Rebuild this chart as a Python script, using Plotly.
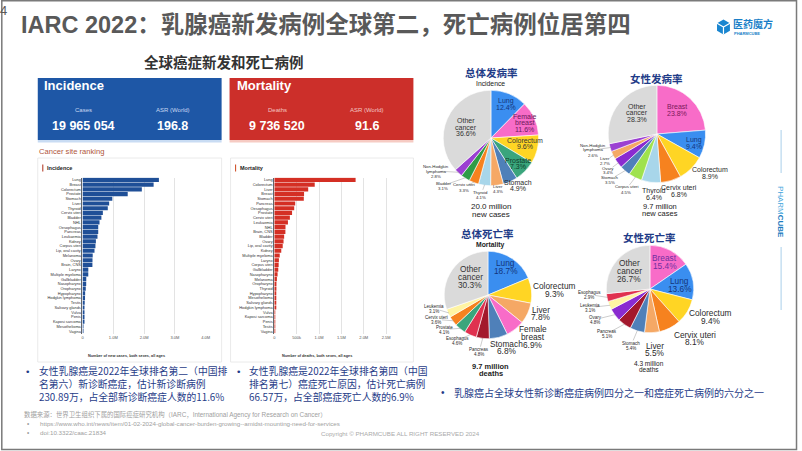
import math
import plotly.graph_objects as go

W, H = 802, 451
def px(x): return x / W
def py(y): return 1 - y / H

# ---------------- DATA ----------------
inc_sites = ["Lung", "Breast", "Colorectum", "Prostate", "Stomach", "Liver", "Thyroid",
             "Cervix uteri", "Bladder", "NHL", "Oesophagus", "Pancreas", "Leukaemia",
             "Kidney", "Corpus uteri", "Lip, oral cavity", "Melanoma", "Ovary", "Brain, CNS",
             "Larynx", "Multiple myeloma", "Gallbladder", "Nasopharynx", "Oropharynx",
             "Hypopharynx", "Hodgkin lymphoma", "Testis", "Salivary glands", "Vulva",
             "Penis", "Kaposi sarcoma", "Mesothelioma", "Vagina"]
inc_cases = [2480675, 2308897, 1926118, 1467854, 968350, 865269, 821214,
             661021, 613791, 553010, 511054, 510992, 486777,
             434840, 420368, 389846, 331722, 324603, 321731,
             188960, 187952, 122491, 120434, 106316,
             86257, 82409, 72031, 55083, 47336,
             37699, 35360, 30618, 18819]

mort_sites = ["Lung", "Colorectum", "Liver", "Breast", "Stomach", "Pancreas", "Oesophagus",
              "Prostate", "Cervix uteri", "Leukaemia", "NHL", "Brain, CNS", "Bladder",
              "Ovary", "Lip, oral cavity", "Kidney", "Multiple myeloma", "Larynx",
              "Corpus uteri", "Gallbladder", "Nasopharynx", "Melanoma", "Oropharynx",
              "Thyroid", "Hypopharynx", "Mesothelioma", "Salivary glands",
              "Hodgkin lymphoma", "Vulva", "Kaposi sarcoma", "Penis", "Testis", "Vagina"]
mort_deaths = [1817469, 903859, 757948, 665684, 659853, 467409, 445129,
               397430, 348189, 305033, 250475, 248305, 220349,
               206956, 188438, 155953, 121388, 103359,
               97723, 89055, 73482, 58667, 48191,
               47507, 43254, 25416, 23007,
               22733, 18579, 16004, 13709, 9056, 8255]

inc_ticks = [0, 1e6, 2e6, 3e6, 4e6]
inc_ticktext = ["0", "1.0M", "2.0M", "3.0M", "4.0M"]
mort_ticks = [0, 5e5, 1e6, 1.5e6, 2e6, 2.5e6]
mort_ticktext = ["0", "500k", "1.0M", "1.5M", "2.0M", "2.5M"]

# Pie 1: overall incidence
p1_names = ["Lung", "Female breast", "Colorectum", "Prostate", "Stomach", "Liver",
            "Thyroid", "Cervix uteri", "Bladder", "Non-Hodgkin lymphoma", "Other cancer"]
p1_vals = [12.4, 11.6, 9.6, 7.3, 4.9, 4.3, 4.1, 3.3, 3.1, 2.8, 36.6]
# Pie 2: female incidence
p2_names = ["Breast", "Lung", "Colorectum", "Cervix uteri", "Thyroid", "Corpus uteri",
            "Stomach", "Ovary", "Liver", "Non-Hodgkin lymphoma", "Other cancer"]
p2_vals = [23.8, 9.4, 8.9, 6.8, 6.4, 4.5, 3.5, 3.4, 2.7, 2.6, 28.3]
# Pie 3: overall mortality
p3_names = ["Lung", "Colorectum", "Liver", "Female breast", "Stomach", "Pancreas",
            "Esophagus", "Prostate", "Cervix uteri", "Leukemia", "Other cancer"]
p3_vals = [18.7, 9.3, 7.8, 6.9, 6.8, 4.8, 4.6, 4.1, 3.6, 3.1, 30.3]
# Pie 4: female mortality
p4_names = ["Breast", "Lung", "Colorectum", "Cervix uteri", "Liver", "Stomach",
            "Pancreas", "Ovary", "Leukemia", "Esophagus", "Other cancer"]
p4_vals = [15.4, 13.6, 9.4, 8.1, 5.5, 5.4, 5.1, 4.8, 3.1, 2.9, 26.7]

# ---------------- STYLE ----------------
SITE_COLORS = {
    "Lung": "#3a8ef0", "Female breast": "#f86cc8", "Breast": "#f86cc8",
    "Colorectum": "#ffd524", "Prostate": "#3aa57c", "Stomach": "#4f80b9",
    "Liver": "#f5a865", "Thyroid": "#a8d6ea", "Cervix uteri": "#f6821f",
    "Bladder": "#2e9c46", "Non-Hodgkin lymphoma": "#9b40d2", "Other cancer": "#dadada",
    "Corpus uteri": "#9fe24e", "Ovary": "#8a2bd0", "Pancreas": "#a3182c",
    "Esophagus": "#e0314f", "Leukemia": "#fff4a3",
}
WRAP = {"Other cancer": ["Other", "cancer"], "Female breast": ["Female", "breast"],
        "Non-Hodgkin lymphoma": ["Non-Hodgkin", "lymphoma"]}

FONT = "Liberation Sans, Noto Sans CJK SC, sans-serif"
CJK = "Noto Sans CJK SC, sans-serif"
DARKBLUE = "#1f3c88"

fig = go.Figure()

# Bar charts
fig.add_trace(go.Bar(x=inc_cases, y=inc_sites, orientation="h", xaxis="x", yaxis="y",
                     marker=dict(color="#1f4f97", line=dict(width=0)), showlegend=False))
fig.add_trace(go.Bar(x=mort_deaths, y=mort_sites, orientation="h", xaxis="x2", yaxis="y2",
                     marker=dict(color="#d42f24", line=dict(width=0)), showlegend=False))

# Pies: (names, values, center px, radius px)
pies = [
    (p1_names, p1_vals, (493, 138), 48),
    (p2_names, p2_vals, (660, 134), 49),
    (p3_names, p3_vals, (490, 295), 44),
    (p4_names, p4_vals, (653, 289), 44),
]
for names, vals, (cx, cy), r in pies:
    fig.add_trace(go.Pie(
        labels=names, values=vals, sort=False, direction="clockwise", rotation=0,
        marker=dict(colors=[SITE_COLORS[n] for n in names], line=dict(color="white", width=0.6)),
        textinfo="none", hoverinfo="label+percent", showlegend=False,
        domain=dict(x=[px(cx - r), px(cx + r)], y=[py(cy + r), py(cy - r)]),
    ))

ax_common = dict(showgrid=True, gridcolor="#e3e3e3", gridwidth=0.6, zeroline=False,
                 tickfont=dict(size=4, color="#555"), ticks="", fixedrange=True)
ycommon = dict(type="category", autorange="reversed", showline=True, linecolor="#666",
               linewidth=0.8, showgrid=False, tickfont=dict(size=3.9, color="#333"),
               ticks="", tickmode="array")
fig.update_layout(
    width=W, height=H, margin=dict(l=0, r=0, t=0, b=0),
    paper_bgcolor="white", plot_bgcolor="rgba(0,0,0,0)",
    font=dict(family=FONT), bargap=0.12,
    xaxis=dict(domain=[px(82), px(206)], range=[0, 4e6], anchor="y",
               tickvals=inc_ticks, ticktext=inc_ticktext, **ax_common),
    yaxis=dict(domain=[py(333.5), py(177.5)], anchor="x", categoryorder="array",
               categoryarray=inc_sites, tickvals=inc_sites, **ycommon),
    xaxis2=dict(domain=[px(275), px(397)], range=[0, 2.71e6], anchor="y2",
                tickvals=mort_ticks, ticktext=mort_ticktext, **ax_common),
    yaxis2=dict(domain=[py(333.5), py(177.5)], anchor="x2", categoryorder="array",
                categoryarray=mort_sites, tickvals=mort_sites, **ycommon),
)

shapes = []
def rect(x0, y0, x1, y1, fill, line=None, lw=0, layer="below"):
    shapes.append(dict(type="rect", xref="paper", yref="paper",
                       x0=px(x0), x1=px(x1), y0=py(y1), y1=py(y0),
                       fillcolor=fill, line=dict(color=line or fill, width=lw), layer=layer))
def line(x0, y0, x1, y1, color, w=1, layer="above"):
    shapes.append(dict(type="line", xref="paper", yref="paper",
                       x0=px(x0), x1=px(x1), y0=py(y0), y1=py(y1),
                       line=dict(color=color, width=w), layer=layer))

# slide border
rect(0.8, 0.8, 800.5, 449.5, "rgba(0,0,0,0)", "#7a7a7a", 1.5, layer="above")
# stat boxes
rect(37, 78, 222, 140, "#1e57a6")
rect(230, 78, 415, 140, "#cc2f2a")
rect(37, 140, 222, 142.5, "#c9dcf3")
rect(230, 140, 415, 142.5, "#f6cbc3")
# cards
rect(37, 158, 222, 362, "white", "#e4e4e4", 0.8)
rect(231, 158, 415, 362, "white", "#e4e4e4", 0.8)
rect(41.5, 164.5, 42.6, 171.5, "#b5402c")
rect(235.5, 164.5, 236.6, 171.5, "#d0532c")
# right vertical brand lines
line(785, 130, 785, 173, "#a9cfea", 1)
line(785, 247, 785, 310, "#a9cfea", 1)
# logo hexagon
cxl, cyl, rl = 727, 27, 7.5
pts = [(cxl + rl * math.cos(math.radians(a)), cyl + rl * math.sin(math.radians(a)))
       for a in range(-90, 270, 60)]
path = "M " + " L ".join(f"{px(x)},{py(y)}" for x, y in pts) + " Z"
shapes.append(dict(type="path", xref="paper", yref="paper", path=path,
                   fillcolor="#1a86d0", line=dict(width=0), layer="above"))
ypath = (f"M {px(cxl)},{py(cyl)} L {px(cxl)},{py(cyl + rl)} "
         f"M {px(cxl)},{py(cyl)} L {px(cxl - rl * 0.866)},{py(cyl - rl * 0.5)} "
         f"M {px(cxl)},{py(cyl)} L {px(cxl + rl * 0.866)},{py(cyl - rl * 0.5)}")
shapes.append(dict(type="path", xref="paper", yref="paper", path=ypath,
                   line=dict(color="white", width=1.2), layer="above"))

anns = []
def ann(x, y, text, size, color="#333", xanchor="center", family=FONT, bold=False,
        textangle=0, align="center"):
    anns.append(dict(x=px(x), y=py(y), xref="paper", yref="paper",
                     text=f"<b>{text}</b>" if bold else text,
                     showarrow=False, xanchor=xanchor, yanchor="middle", align=align,
                     borderpad=0, font=dict(size=size, color=color, family=family),
                     textangle=textangle))

def ann_lines(x, y, lines, size, color="#333", spacing=None, bold=False):
    sp = spacing if spacing else max(size * 0.95, 5.0)
    n = len(lines)
    for i, t in enumerate(lines):
        ann(x, y + (i - (n - 1) / 2) * sp, t, size, color, bold=bold)

# page number, title, logo
ann(-2, 10, "4", 13, "#595959", xanchor="left")
ann(19, 25, "IARC 2022：乳腺癌新发病例全球第二，死亡病例位居第四", 23.5, "#595959",
    xanchor="left", family="Liberation Sans, Noto Sans CJK SC", bold=True)
ann(736, 23.5, "医药魔方", 10, "#1a7fc8", xanchor="left", family=CJK, bold=True)
ann(736.5, 33.5, "PHARMCUBE", 4, "#1a7fc8", xanchor="left", bold=True)

# subtitle and stat boxes
ann(224, 62, "全球癌症新发和死亡病例", 14.5, "#333", family=CJK, bold=True)
ann(42, 85, "Incidence", 13, "white", xanchor="left", bold=True)
ann(83, 110, "Cases", 6, "#c9d8f2")
ann(83, 125.5, "19 965 054", 12.5, "white", bold=True)
ann(173, 110, "ASR (World)", 6, "#c9d8f2")
ann(173, 125.5, "196.8", 12.5, "white", bold=True)
ann(236, 85, "Mortality", 13, "white", xanchor="left", bold=True)
ann(278, 110, "Deaths", 6, "#f4c7c3")
ann(278, 125.5, "9 736 520", 12.5, "white", bold=True)
ann(368, 110, "ASR (World)", 6, "#f4c7c3")
ann(368, 125.5, "91.6", 12.5, "white", bold=True)
ann(37, 151.5, "Cancer site ranking", 7.6, "#b0553a", xanchor="left")
ann(45, 168, "Incidence", 5.5, "#222", xanchor="left", bold=True)
ann(239, 168, "Mortality", 5.5, "#222", xanchor="left", bold=True)
ann(126, 355.5, "Number of new cases, both sexes, all ages", 3.8, "#333", bold=True)
ann(318, 355.5, "Number of deaths, both sexes, all ages", 3.8, "#333", bold=True)

# pie titles
ann(494, 72.5, "总体发病率", 10.5, DARKBLUE, family=CJK, bold=True)
ann(493, 83, "Incidence", 6.8, "#222")
ann(660, 78, "女性发病率", 10.5, DARKBLUE, family=CJK, bold=True)
ann(490, 233.5, "总体死亡率", 10.5, DARKBLUE, family=CJK, bold=True)
ann(493, 244.5, "Mortality", 6.8, "#222", bold=True)
ann(653, 237.5, "女性死亡率", 10.5, DARKBLUE, family=CJK, bold=True)
ann_lines(493, 210.5, ["20.0 million", "new cases"], 8, "#222", spacing=7.6)
ann_lines(663, 210, ["9.7 million", "new cases"], 7.5, "#222", spacing=7.2)
ann_lines(493, 370, ["9.7 million", "deaths"], 7.5, "#222", spacing=7.8, bold=True)
ann_lines(652, 366.5, ["4.3 million", "deaths"], 6.5, "#222", spacing=6.6)

# pie slice labels: positions (x, y, size, color) aligned with slices
TXT = "#2a2a2a"
p1_lab = [(508, 104, 7, "#14357a"), (527, 123, 7, "#6b1a5a"), (527, 143.5, 7, "#333"),
          (520, 163.5, 7, "#0f3d2a"), (520, 185.5, 7, TXT), (500, 189, 4.3, TXT),
          (483, 195, 4.3, TXT), (466, 187.5, 4.3, TXT), (445, 185.5, 4.3, TXT),
          (438, 171, 4.3, TXT), (468, 127, 7, "#333")]
p2_lab = [(680, 110, 7, "#7a1a5a"), (697, 143, 7, "#14357a"), (713, 173, 7, TXT),
          (682, 191, 7, TXT), (657, 194.5, 7, TXT), (629, 189.5, 4.3, TXT),
          (613, 179.5, 4.3, TXT), (611, 170.5, 4.3, TXT), (608, 161, 4.3, TXT),
          (596, 150, 4.3, TXT), (640, 113, 7, "#333")]
p3_lab = [(508, 267, 8.3, "#14357a"), (557, 290, 8.3, TXT), (543, 313.5, 8.3, TXT),
          (535, 337, 8.3, TXT), (509, 347.5, 8.3, TXT), (481, 352, 4.5, TXT),
          (459, 340.5, 4.5, TXT), (446, 329.5, 4.5, TXT), (438, 319.5, 4.5, TXT),
          (436, 308.5, 4.5, TXT), (472, 277, 8.3, "#333")]
p4_lab = [(668, 262, 8.3, "#7030a0"), (683, 285, 8.3, "#14357a"), (714, 317, 8.3, TXT),
          (698, 338.5, 8.3, TXT), (658, 349.5, 8.3, TXT), (634, 345.5, 4.5, TXT),
          (610, 333.5, 4.5, TXT), (598, 319.5, 4.5, TXT), (593, 307.5, 4.5, TXT),
          (592, 294.5, 4.5, TXT), (632, 271, 8.3, "#333")]
pie_labels = [p1_lab, p2_lab, p3_lab, p4_lab]
for (names, vals, (cx, cy), r), labs in zip(pies, pie_labels):
    total = sum(vals)
    cum = 0.0
    for n, v, (x, y, s, c) in zip(names, vals, labs):
        lines_txt = WRAP.get(n, [n]) + [f"{v:.1f}%"]
        ann_lines(x, y, lines_txt, s, c)
        # thin leader line from small slices to their outside label
        mid = (cum + v / 2) / total * 2 * math.pi
        cum += v
        if s < 5:
            sx, sy = cx + r * 0.98 * math.sin(mid), cy - r * 0.98 * math.cos(mid)
            d = math.hypot(sx - x, sy - y)
            if d > 8:
                k = 5.5 / d
                ex, ey = x + (sx - x) * k, y + (sy - y) * k
                line(sx, sy, ex, ey, "#9a9a9a", 0.5)

# vertical brand text
ann(785, 212, "<span style='color:#46a6dc'>PHARM</span><b>CUBE</b>", 8, "#1c7cc0",
    textangle=90)

# bullets
B = 9.8
ann(27, 371, "•", B, DARKBLUE)
ann(37, 371, "女性乳腺癌是2022年全球排名第二（中国排", B, DARKBLUE, xanchor="left", family=CJK)
ann(37, 384, "名第六）新诊断癌症，估计新诊断病例", B, DARKBLUE, xanchor="left", family=CJK)
ann(37, 397, "230.89万，占全部新诊断癌症人数的11.6%", B, DARKBLUE, xanchor="left", family=CJK)
ann(239, 371, "•", B, DARKBLUE)
ann(249, 371, "女性乳腺癌是2022年全球排名第四（中国", B, DARKBLUE, xanchor="left", family=CJK)
ann(249, 384, "排名第七）癌症死亡原因，估计死亡病例", B, DARKBLUE, xanchor="left", family=CJK)
ann(249, 397, "66.57万，占全部癌症死亡人数的6.9%", B, DARKBLUE, xanchor="left", family=CJK)
ann(445, 392, "•", 10, DARKBLUE)
ann(455, 392, "乳腺癌占全球女性新诊断癌症病例四分之一和癌症死亡病例的六分之一", 10, DARKBLUE,
    xanchor="left", family=CJK)

# source / copyright
SG = "#a0a0a0"
ann(22, 414.5, "数据来源：世界卫生组织下属的国际癌症研究机构（IARC，International Agency for Research on Cancer）",
    6.4, SG, xanchor="left", family=FONT)
ann(25, 423.5, "•", 6.4, SG, xanchor="left")
ann(38, 423.5, "https://www.who.int/news/item/01-02-2024-global-cancer-burden-growing--amidst-mounting-need-for-services",
    6.2, SG, xanchor="left")
ann(25, 432, "•", 6.4, SG, xanchor="left")
ann(38, 432, "doi:10.3322/caac.21834", 6.2, SG, xanchor="left")
ann(402, 433.5, "Copyright © PHARMCUBE ALL RIGHT RESERVED 2024", 6.2, "#aaaaaa")

fig.update_layout(shapes=shapes, annotations=anns)
fig.write_html("out.html", config={"displayModeBar": False},
               post_script="document.body.style.margin='0';")
